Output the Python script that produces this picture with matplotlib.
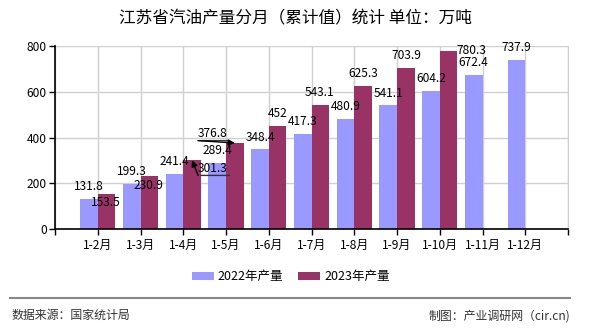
import matplotlib
matplotlib.use("Agg")
from matplotlib import pyplot as plt
import numpy as np

plt.rcParams['font.family'] = ['Noto Sans CJK SC', 'DejaVu Sans']

# data
months = ['1-2月', '1-3月', '1-4月', '1-5月', '1-6月', '1-7月', '1-8月', '1-9月', '1-10月', '1-11月', '1-12月']
prod_2022 = [131.8, 199.3, 241.4, 289.4, 348.4, 417.3, 480.9, 541.1, 604.2, 672.4, 737.9]
prod_2023 = [153.5, 230.9, 301.3, 376.8, 452, 543.1, 625.3, 703.9, 780.3]

# label offsets (pixels) copying the original's collision handling
off_2022 = [(0, 12.3)] * len(prod_2022)
off_2023 = [(-1, -8), (-1, -9.5), (21, -8), (-22, 9.5), (0, 12.3), (-1, 12.5), (0, 12.7), (0.5, 13), (22.5, 0.5)]
leader_2023 = [False, False, True, True, False, False, False, False, False]

c22 = '#9999FF'
c23 = '#993366'
w = 0.41

fig = plt.figure(figsize=(5.9, 3.3), dpi=100)
ax = fig.add_axes([55 / 590, 1 - 229.3 / 330, 513 / 590, 183.3 / 330])

x22 = np.arange(len(prod_2022)) - w / 2
x23 = np.arange(len(prod_2023)) + w / 2
ax.bar(x22, prod_2022, width=w, color=c22, label='2022年产量', zorder=2)
ax.bar(x23, prod_2023, width=w, color=c23, label='2023年产量', zorder=2)

ax.set_xlim(-1, 11)
ax.set_ylim(0, 800)
ax.set_yticks([0, 200, 400, 600, 800])
ax.set_xticks(np.arange(-1, 12))
ax.set_xticklabels([''] + months + [''])
ax.tick_params(axis='both', length=4, width=1, labelsize=8.6, pad=2, colors='black')
ax.tick_params(axis='x', pad=3)
ax.grid(True, color='#d0d0d0', linewidth=1, zorder=0)
ax.set_axisbelow(True)
ax.spines['top'].set_visible(False)
ax.spines['right'].set_color('#d0d0d0')
ax.spines['left'].set_linewidth(1.2)
ax.spines['bottom'].set_linewidth(1.2)

lab_font = dict(fontsize=8.6, color='black', ha='center', va='center', zorder=5)
for xi, v, off in zip(x22, prod_2022, off_2022):
    ax.annotate(f'{v:g}', xy=(xi, v), xytext=off, textcoords='offset pixels', **lab_font)
for xi, v, off, lead in zip(x23, prod_2023, off_2023, leader_2023):
    t = ax.annotate(f'{v:g}', xy=(xi, v), xytext=off, textcoords='offset pixels', **lab_font)
    if lead:
        # underline + arrow back to the bar, as in the original
        ax.annotate('', xy=(1.15, -0.05), xycoords=t, xytext=(0, -0.05), textcoords=t,
                    arrowprops=dict(arrowstyle='-', color='#333333', lw=1))
        ax.annotate('', xy=(xi, v), xycoords='data', xytext=(0, -0.05), textcoords=t,
                    arrowprops=dict(arrowstyle='-|>', color='black', lw=1, mutation_scale=9,
                                    shrinkA=0, shrinkB=0))

fig.text(0.5, 1 - 19 / 330, '江苏省汽油产量分月（累计值）统计 单位：万吨', ha='center', va='center',
         fontsize=12, color='black')

fig.legend(loc='center', bbox_to_anchor=(0.493, 1 - 276.7 / 330), ncol=2, frameon=False,
           fontsize=9, handlelength=1.75, handleheight=0.65, handletextpad=0.3, columnspacing=1.2)

fig.add_artist(plt.Line2D([10 / 590, 570 / 590], [1 - 297.7 / 330] * 2, color='#888888', lw=1.5))
fig.text(12 / 590, 1 - 315.7 / 330, '数据来源：国家统计局', ha='left', va='center', fontsize=8.6, color='#333333')
fig.text(570 / 590, 1 - 315.7 / 330, '制图：产业调研网（cir.cn)', ha='right', va='center', fontsize=8.6,
         color='#333333')

fig.savefig('out.png', dpi=100)
